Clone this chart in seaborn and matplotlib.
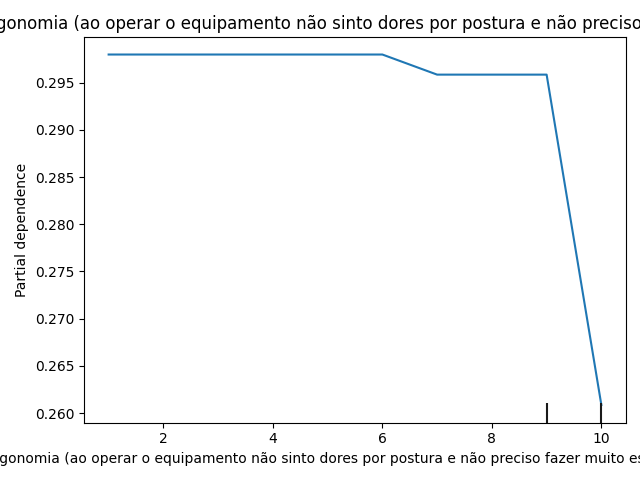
import matplotlib
matplotlib.use("Agg")
import matplotlib.pyplot as plt
import seaborn as sns
import numpy as np
import pandas as pd

grid_values = [1, 2, 3, 4, 5, 6, 7, 8, 9, 10]
partial_dep = [0.29798, 0.29798, 0.29798, 0.29798, 0.29798, 0.29798,
               0.29585, 0.29585, 0.29585, 0.26085]
deciles = [9, 9, 9, 9, 9, 9, 10, 10, 10]

feature_name = ("Ergonomia (ao operar o equipamento não sinto dores por postura "
                "e não preciso fazer muito esforço físico)")
title_text = ("Ergonomia (ao operar o equipamento não sinto dores por postura "
              "e não preciso fazer muito)")
ylabel_text = "Partial dependence"

sns.set_theme(style="ticks", rc={"axes.grid": False})
plt.rcParams.update(matplotlib.rcParamsDefault)
plt.rcParams["font.family"] = ["DejaVu Sans"]
matplotlib.use("Agg")

df = pd.DataFrame({"x": grid_values, "y": partial_dep})

fig, ax = plt.subplots(figsize=(6.4, 4.8), dpi=100)
sns.lineplot(data=df, x="x", y="y", ax=ax, color="#1f77b4", linewidth=1.5)

trans = ax.get_xaxis_transform()
ax.vlines(np.unique(deciles), 0, 0.05, transform=trans, color="k")

ax.set_xlabel(feature_name)
ax.set_ylabel(ylabel_text)
ax.set_title(title_text, x=0.5 + 9 / 542)

fig.subplots_adjust(left=84/640, right=626/640, top=1-37/480, bottom=1-422.5/480)
fig.savefig("out.png", dpi=100)
